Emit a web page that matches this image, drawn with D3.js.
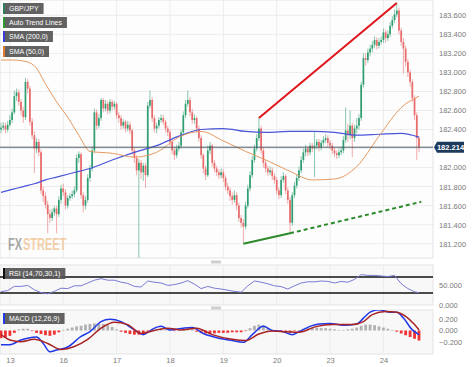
<!DOCTYPE html>
<html>
<head>
<meta charset="utf-8">
<script src="https://cdn.jsdelivr.net/npm/d3@7"></script>
<style>
  body { margin: 0; background: #fff; }
  svg { display: block; font-family: "Liberation Sans", Arial, sans-serif; }
</style>
</head>
<body>
<svg id="chart" width="474" height="367"></svg>
<script>
// hourly GBP/JPY candles, index 0 = first bar on the left
const firstOpen = 182.40;
const closes = [
  182.42,182.44,182.40,182.45,182.50,182.58,182.75,182.79,182.69,182.60,
  182.53,182.90,182.83,182.48,182.34,182.20,182.27,182.16,181.76,181.70,
  181.61,181.51,181.47,181.53,181.57,181.51,181.66,181.78,181.74,181.60,
  181.68,181.70,181.72,181.76,182.10,182.14,181.71,181.60,181.66,181.89,
  181.99,182.18,182.58,182.44,182.52,182.71,182.62,182.67,182.60,182.69,
  182.64,182.67,182.55,182.52,182.44,182.48,182.41,182.45,182.39,182.18,
  182.10,181.97,182.05,181.95,182.02,181.92,182.65,182.71,182.52,182.41,
  182.44,182.50,182.52,182.48,182.41,182.37,182.27,182.18,182.13,182.20,
  182.23,182.37,182.55,182.67,182.71,182.58,182.50,182.52,182.41,182.31,
  182.13,181.99,181.92,182.18,182.23,182.05,181.99,181.95,181.92,181.95,
  181.89,181.80,181.76,181.70,181.66,181.71,181.60,181.47,181.42,181.38,
  181.60,181.78,181.92,182.08,182.20,182.31,182.41,182.18,182.05,181.99,
  181.95,181.97,181.91,181.87,181.76,181.71,181.87,181.91,181.76,181.66,
  181.42,181.71,181.81,181.89,181.97,182.08,182.16,182.20,182.16,182.23,
  182.20,182.23,182.27,182.21,182.26,182.29,182.31,182.26,182.23,182.18,
  182.15,182.13,182.16,182.18,182.29,182.39,182.34,182.44,182.31,182.41,
  182.44,182.52,182.87,183.15,183.13,183.21,183.25,183.29,183.34,183.28,
  183.32,183.34,183.42,183.36,183.40,183.49,183.55,183.61,183.65,183.44,
  183.32,183.25,183.11,183.00,182.90,182.73,182.55,182.31,182.214
];
const highs = [
  182.47,182.48,182.47,182.49,182.55,182.62,182.81,182.83,182.82,182.72,
  182.64,182.94,182.93,182.86,182.52,182.38,182.31,182.30,182.19,181.80,
  181.74,181.65,181.56,181.57,181.60,181.60,181.70,181.82,181.83,181.77,
  181.71,181.73,181.76,181.80,182.14,182.17,182.16,181.74,181.70,181.93,
  182.03,182.22,182.62,182.61,182.56,182.73,182.73,182.71,182.70,182.72,
  182.71,182.70,182.69,182.58,182.55,182.51,182.50,182.49,182.48,182.41,
  182.21,182.13,182.09,182.08,182.05,182.05,182.69,182.81,182.74,182.55,
  182.47,182.53,182.56,182.55,182.50,182.44,182.40,182.30,182.21,182.24,
  182.27,182.40,182.59,182.71,182.81,182.74,182.62,182.56,182.54,182.44,
  182.34,182.15,182.02,182.23,182.27,182.25,182.08,182.02,181.98,181.99,
  181.98,181.92,181.84,181.79,181.74,181.76,181.74,181.63,181.50,181.46,
  181.64,181.82,181.96,182.12,182.24,182.35,182.52,182.44,182.21,182.08,
  182.02,182.01,182.00,181.94,181.90,181.79,181.91,181.95,181.93,181.79,
  181.69,181.74,181.85,181.93,182.01,182.12,182.20,182.24,182.23,182.26,
  182.26,182.37,182.30,182.30,182.29,182.33,182.35,182.34,182.29,182.26,
  182.21,182.18,182.20,182.22,182.33,182.63,182.46,182.60,182.47,182.45,
  182.52,182.56,182.90,183.20,183.20,183.25,183.29,183.33,183.38,183.37,
  183.36,183.38,183.46,183.45,183.44,183.53,183.59,183.66,183.73,183.68,
  183.47,183.36,183.28,183.14,183.03,182.93,182.76,182.58,182.33
];
const lows = [
  182.36,182.39,182.36,182.37,182.43,182.47,182.56,182.70,182.65,182.55,
  182.47,182.50,182.78,182.44,182.30,181.94,182.15,182.12,181.72,181.64,
  181.57,181.31,181.42,181.44,181.49,181.31,181.48,181.62,181.70,181.56,
  181.57,181.65,181.67,181.69,181.74,182.05,181.67,181.53,181.56,181.63,
  181.85,181.96,182.15,182.40,182.41,182.49,182.58,182.59,182.56,182.57,
  182.60,182.61,182.51,182.47,182.40,182.41,182.37,182.38,182.35,182.14,
  182.05,181.92,181.04,181.88,181.86,181.79,181.90,182.62,182.48,182.37,
  182.36,182.41,182.47,182.45,182.37,182.33,182.23,182.14,182.08,182.10,
  182.17,182.20,182.35,182.52,182.64,182.54,182.46,182.46,182.37,182.27,
  182.09,181.94,181.87,181.90,182.14,182.01,181.95,181.91,181.88,181.89,
  181.85,181.76,181.72,181.65,181.61,181.63,181.55,181.43,181.37,181.20,
  181.35,181.57,181.75,181.89,182.05,182.17,182.28,182.14,182.00,181.95,
  181.91,181.92,181.87,181.83,181.72,181.67,181.68,181.84,181.72,181.62,
  181.31,181.39,181.68,181.78,181.86,181.94,182.05,182.12,182.12,182.13,
  182.16,181.90,182.19,182.17,182.18,182.23,182.26,182.22,182.19,182.14,
  182.11,182.09,182.10,182.13,182.15,182.26,182.27,182.30,182.11,182.27,
  182.36,182.40,182.49,182.84,183.07,183.10,183.17,183.21,183.26,183.24,
  183.25,183.29,183.31,183.31,183.33,183.37,183.46,183.52,183.58,183.40,
  183.28,182.99,183.06,182.95,182.85,182.69,182.50,182.08,182.16
];

// moving averages at these bar indices
const smaIdx = [0,5,10,15,20,25,30,35,40,50,60,70,80,90,100,110,120,130,140,150,160,170,180,188];
const sma200 = [181.74,181.77,181.80,181.83,181.87,181.90,181.93,181.96,181.99,182.08,182.16,182.23,
                182.33,182.40,182.41,182.38,182.37,182.38,182.38,182.37,182.34,182.35,182.36,182.32];
const sma50  = [183.13,183.13,183.12,183.07,182.88,182.69,182.53,182.34,182.17,182.15,182.11,182.16,
                182.32,182.38,182.28,182.17,182.07,181.96,181.87,181.88,182.01,182.33,182.63,182.75];

// auto trend lines
const trendHighIdx = [116, 178];
const trendHighVal = [182.52, 183.73];
const trendLowIdx = [109, 130, 189];
const trendLowVal = [181.20, 181.31, 181.64];

// RSI (14)
const rsiIdx = [0,3,6,9,12,15,18,21,24,27,30,33,36,39,42,45,48,51,54,57,60,63,66,69,72,75,78,81,84,87,
                90,93,96,99,102,105,108,111,114,117,120,123,126,129,132,135,138,141,144,147,150,153,156,
                159,162,165,168,171,174,177,180,183,186,188];
const rsiVal = [33.5,36,46.5,46.5,49,38,31,28,34,42,41,48,48,55,62,66,62,62,57,54,46.5,45,60,57,55,49,51,55,61,52,
                41,46.5,42,40,37,34,32,48,60,57,53,48,46,40,48,55,58,58,60,59,55,59,57,
                64,76,74,74,72.6,71,74,53,41,33,31];

// MACD (12,26,9)
const macdIdx = [0,4,9,12,16,19,22,25,30,36,40,45,49,54,60,64,68,72,76,82,86,91,98,104,109,113,118,122,127,131,
                 134,139,143,148,154,160,163,166,170,175,178,181,185,188];
const macdVal = [-0.24,-0.24,-0.16,-0.13,-0.11,-0.22,-0.36,-0.33,-0.28,-0.10,-0.02,0.15,0.19,0.15,0.01,-0.07,0.02,0.07,0.01,0.04,
                 0.05,-0.05,-0.13,-0.17,-0.20,-0.07,0.07,0.00,-0.02,-0.07,-0.02,0.07,0.11,0.12,0.09,0.11,0.21,0.31,0.35,0.31,
                 0.31,0.21,0.01,-0.07];
const signalIdx = [0,4,9,15,21,27,33,39,45,51,57,63,69,75,81,88,95,104,110,116,122,128,134,142,149,158,163,167,173,178,
                   182,186,188];
const signalVal = [-0.07,-0.16,-0.19,-0.15,-0.22,-0.32,-0.27,-0.15,0.04,0.14,0.10,-0.05,0.00,0.04,0.01,0.04,-0.07,-0.15,-0.17,-0.06,
                   -0.01,-0.02,-0.03,0.07,0.10,0.10,0.15,0.27,0.32,0.31,0.24,0.10,0.01];
// histogram, one value every 2 bars (index 0,2,4 ... 188)
const histVal = [
  -0.13,-0.12,-0.09,-0.04,0.02,0.03,0.03,-0.01,-0.04,-0.06,
  -0.08,-0.09,-0.07,-0.03,0.01,0.03,0.05,0.07,0.08,0.10,
  0.11,0.12,0.12,0.11,0.09,0.06,0.02,-0.02,-0.04,-0.06,
  -0.07,-0.07,-0.06,-0.02,0.02,0.03,0.04,0.02,0.01,-0.01,
  0.01,0.02,0.03,0.02,-0.02,-0.04,-0.05,-0.05,-0.05,-0.04,
  -0.04,-0.04,-0.03,-0.03,-0.03,-0.01,0.04,0.08,0.10,0.09,
  0.04,-0.01,-0.02,-0.02,-0.02,-0.03,-0.01,0.01,0.03,0.04,
  0.05,0.05,0.04,0.04,0.03,0.02,0.01,0.01,0.02,0.03,
  0.05,0.08,0.10,0.10,0.09,0.07,0.05,0.03,0.01,-0.02,
  -0.05,-0.08,-0.11,-0.14,-0.17
];

// axes (182.200 sits under the last-price tag, so it is not labelled)
const dayIdx = [4,28,52,76,100,124,148,172];
const dayLabels = ["13","16","17","18","19","20","23","24"];
const priceGrid = [181.2,181.4,181.6,181.8,182.0,182.2,182.4,182.6,182.8,183.0,183.2,183.4,183.6];
const priceTicks = [181.2,181.4,181.6,181.8,182.0,182.4,182.6,182.8,183.0,183.2,183.4,183.6];
const rsiTicks = [0, 50];
const macdTicks = [-0.2, 0, 0.2];
const lastPrice = 182.214;

const svg = d3.select("#chart");
const plotW = 433;

const x = d3.scaleLinear().domain([0, 188]).range([1, 419]);
const y = d3.scaleLinear().domain([181.2, 183.6]).range([243.7, 15.3]);
const yRsi = d3.scaleLinear().domain([0, 100]).range([305, 265]);
const yMacd = d3.scaleLinear().domain([-0.2, 0.2]).range([342.3, 318.7]);

const panels = [
  {id: "main", top: 0, bottom: 258, fill: "#fdfdfd"},
  {id: "rsi", top: 265, bottom: 305, fill: "#f8f8f8"},
  {id: "macd", top: 310, bottom: 354, fill: "#f8f8f8"}
];

const defs = svg.append("defs");
panels.forEach(p => {
  defs.append("clipPath").attr("id", "clip-" + p.id)
    .append("rect").attr("x", 0).attr("y", p.top)
    .attr("width", plotW).attr("height", p.bottom - p.top);

  svg.append("rect")
    .attr("x", 0).attr("y", p.top)
    .attr("width", plotW).attr("height", p.bottom - p.top)
    .attr("fill", p.fill)
    .attr("stroke", "#e3e3e3");

  // vertical day grid
  svg.append("g").selectAll("line")
    .data(dayIdx).enter().append("line")
    .attr("x1", d => x(d)).attr("x2", d => x(d))
    .attr("y1", p.top).attr("y2", p.bottom)
    .attr("stroke", "#ececec");
});

// horizontal price grid
svg.append("g").selectAll("line")
  .data(priceGrid).enter().append("line")
  .attr("x1", 0).attr("x2", plotW)
  .attr("y1", d => y(d)).attr("y2", d => y(d))
  .attr("stroke", "#ececec");

// drag handles between panels
[260.5, 306.5].forEach(h => {
  svg.append("rect").attr("x", 211).attr("y", h).attr("width", 10).attr("height", 3).attr("fill", "#cfcfcf");
});

// watermark, stretched vertically so the letters stay narrow
const wm = svg.append("g").attr("transform", "translate(8,250) scale(1,1.45)").attr("opacity", 0.75);
wm.append("text").attr("x", 0).attr("y", 0)
  .attr("font-size", 11).attr("font-weight", "bold")
  .attr("fill", "#8c8c8c").text("FX");
wm.append("text").attr("x", 15).attr("y", 0)
  .attr("font-size", 11).attr("font-weight", "bold")
  .attr("fill", "#f0c08c").text("STREET");

// main panel marks
const main = svg.append("g").attr("clip-path", "url(#clip-main)");

const candles = closes.map((c, i) => ({
  i: i,
  open: i === 0 ? firstOpen : closes[i - 1],
  close: c,
  high: highs[i],
  low: lows[i]
}));

const up = "#2f9e72", down = "#e86a6a";

main.append("g").selectAll("line")
  .data(candles).enter().append("line")
  .attr("x1", d => x(d.i)).attr("x2", d => x(d.i))
  .attr("y1", d => y(d.high)).attr("y2", d => y(d.low))
  .attr("stroke", d => d.close >= d.open ? up : down)
  .attr("stroke-opacity", 0.7)
  .attr("stroke-width", 0.8);

main.append("g").selectAll("rect")
  .data(candles).enter().append("rect")
  .attr("x", d => x(d.i) - 0.85)
  .attr("width", 1.7)
  .attr("y", d => y(Math.max(d.open, d.close)))
  .attr("height", d => Math.max(0.8, Math.abs(y(d.open) - y(d.close))))
  .attr("fill", d => d.close >= d.open ? up : down);

const smaLine = vals => d3.line()
  .x((d, k) => x(smaIdx[k]))
  .y(d => y(d))
  .curve(d3.curveMonotoneX)(vals);

main.append("path").attr("d", smaLine(sma200))
  .attr("fill", "none").attr("stroke", "#4a55d8").attr("stroke-width", 1.2);
main.append("path").attr("d", smaLine(sma50))
  .attr("fill", "none").attr("stroke", "#e59a62").attr("stroke-width", 1);

// last price line
main.append("line")
  .attr("x1", 0).attr("x2", plotW)
  .attr("y1", y(lastPrice)).attr("y2", y(lastPrice))
  .attr("stroke", "#4d5964").attr("stroke-width", 1);

// trend lines
main.append("line")
  .attr("x1", x(trendHighIdx[0])).attr("y1", y(trendHighVal[0]))
  .attr("x2", x(trendHighIdx[1])).attr("y2", y(trendHighVal[1]))
  .attr("stroke", "#e0141c").attr("stroke-width", 2);
main.append("line")
  .attr("x1", x(trendLowIdx[0])).attr("y1", y(trendLowVal[0]))
  .attr("x2", x(trendLowIdx[1])).attr("y2", y(trendLowVal[1]))
  .attr("stroke", "#2c8a2c").attr("stroke-width", 2);
main.append("line")
  .attr("x1", x(trendLowIdx[1])).attr("y1", y(trendLowVal[1]))
  .attr("x2", x(trendLowIdx[2])).attr("y2", y(trendLowVal[2]))
  .attr("stroke", "#2c8a2c").attr("stroke-width", 2)
  .attr("stroke-dasharray", "4,3");

// RSI panel
const rsiG = svg.append("g").attr("clip-path", "url(#clip-rsi)");
[70, 30].forEach(l => {
  rsiG.append("line").attr("x1", 0).attr("x2", plotW)
    .attr("y1", yRsi(l)).attr("y2", yRsi(l))
    .attr("stroke", "#111").attr("stroke-width", 1.3);
});
rsiG.append("path")
  .attr("d", d3.line().x((d, k) => x(rsiIdx[k])).y(d => yRsi(d))(rsiVal))
  .attr("fill", "none").attr("stroke", "#7a7ad6").attr("stroke-width", 1);

// MACD panel
const macdG = svg.append("g").attr("clip-path", "url(#clip-macd)");
macdG.append("g").selectAll("rect")
  .data(histVal).enter().append("rect")
  .attr("x", (d, k) => x(k * 2) - 1.4)
  .attr("width", 2.8)
  .attr("y", d => Math.min(yMacd(d), yMacd(0)))
  .attr("height", d => Math.abs(yMacd(d) - yMacd(0)))
  .attr("fill", d => d < 0 ? "#f01c1c" : "#9a9a9a")
  .attr("opacity", d => d < 0 ? 0.9 : 0.75);

macdG.append("path")
  .attr("d", d3.line().x((d, k) => x(macdIdx[k])).y(d => yMacd(d)).curve(d3.curveMonotoneX)(macdVal))
  .attr("fill", "none").attr("stroke", "#2038e8").attr("stroke-width", 1.5);
macdG.append("path")
  .attr("d", d3.line().x((d, k) => x(signalIdx[k])).y(d => yMacd(d)).curve(d3.curveMonotoneX)(signalVal))
  .attr("fill", "none").attr("stroke", "#a82424").attr("stroke-width", 1.5);

// axes
function styleAxis(g) {
  g.select(".domain").remove();
  g.selectAll("text").attr("fill", "#7a7a7a").attr("font-size", 7.5)
    .attr("font-family", "'Liberation Sans', Arial, sans-serif");
}

svg.append("g").attr("transform", "translate(435,0)")
  .call(d3.axisRight(y).tickValues(priceTicks).tickFormat(d3.format(".3f")).tickSize(0).tickPadding(4))
  .call(styleAxis);
svg.append("g").attr("transform", "translate(435,0)")
  .call(d3.axisRight(yRsi).tickValues(rsiTicks).tickFormat(d3.format(".3f")).tickSize(0).tickPadding(4))
  .call(styleAxis);
svg.append("g").attr("transform", "translate(435,0)")
  .call(d3.axisRight(yMacd).tickValues(macdTicks).tickFormat(d3.format(".3f")).tickSize(0).tickPadding(4))
  .call(styleAxis);
svg.append("g").attr("transform", "translate(0,355)")
  .call(d3.axisBottom(x).tickValues(dayIdx).tickFormat((d, k) => dayLabels[k]).tickSize(0).tickPadding(3))
  .call(styleAxis);

// last price tag
const ly = y(lastPrice);
svg.append("path")
  .attr("d", `M434,${ly} L437,${ly - 5.5} L464,${ly - 5.5} L464,${ly + 5.5} L437,${ly + 5.5} Z`)
  .attr("fill", "#1d3a5c");
svg.append("text").attr("x", 450.5).attr("y", ly + 2.7)
  .attr("text-anchor", "middle").attr("font-size", 7.5).attr("font-weight", "bold")
  .attr("fill", "#fff").text(lastPrice.toFixed(3));

// legend tags
const tags = [
  {label: "GBP/JPY", top: 3, color: "#2e7d5b"},
  {label: "Auto Trend Lines", top: 17, color: "#2c9a2c"},
  {label: "SMA (200,0)", top: 31, color: "#3a3ad8"},
  {label: "SMA (50,0)", top: 46, color: "#e37b2e"},
  {label: "RSI (14,70,30,1)", top: 268, color: "#111"},
  {label: "MACD (12,26,9)", top: 313, color: "#2038e8"}
];
tags.forEach(t => {
  const g = svg.append("g").attr("transform", `translate(3,${t.top})`);
  const box = g.append("rect").attr("height", 11).attr("fill", "#555").attr("opacity", 0.92);
  g.append("rect").attr("width", 2).attr("height", 11).attr("fill", t.color);
  const txt = g.append("text").attr("x", 6).attr("y", 8).attr("font-size", 7)
    .attr("fill", "#fff").text(t.label);
  box.attr("width", txt.node().getComputedTextLength() + 11);
});
</script>
</body>
</html>
